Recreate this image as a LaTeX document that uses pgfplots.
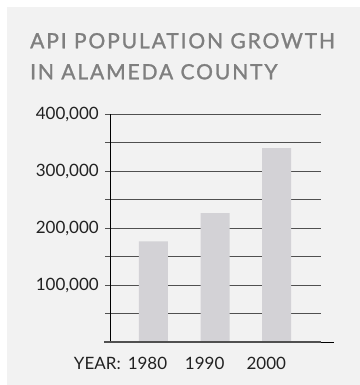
\documentclass[border=0pt]{standalone}
\usepackage{pgfplots}
\pgfplotsset{compat=1.18}
\usepackage{fontspec}
\setmainfont{Lato}
\definecolor{panel}{HTML}{F2F2F2}
\definecolor{barc}{HTML}{D3D2D6}
\definecolor{gridc}{HTML}{505050}
\definecolor{titlec}{HTML}{7F7F7F}
\definecolor{labc}{HTML}{222222}
\begin{document}
\begin{tikzpicture}
\fill[white] (0bp,0bp) rectangle (360bp,385bp);
\fill[panel] (7bp,0bp) rectangle (360bp,378bp);
\node[anchor=base west, inner sep=0, text=titlec, font=\fontsize{21bp}{25bp}\selectfont\addfontfeature{LetterSpace=9,FakeBold=1.2}] at (30bp,336.7bp) {API POPULATION GROWTH};
\node[anchor=base west, inner sep=0, text=titlec, font=\fontsize{21bp}{25bp}\selectfont\addfontfeature{LetterSpace=9,FakeBold=1.2}] at (30bp,305.7bp) {IN ALAMEDA COUNTY};
\node[anchor=base east, inner sep=0, text=labc, font=\fontsize{17bp}{20bp}\selectfont] at (121bp,15.7bp) {YEAR:};
\begin{axis}[
  at={(105bp,42.7bp)}, anchor=south west, scale only axis,
  width=216bp, height=228.3bp,
  xmin=-0.7886, xmax=2.7236, ymin=0, ymax=400000,
  axis line style={draw=none},
  major tick style={draw=none}, minor tick style={draw=none},
  ytick={100000,200000,300000,400000},
  yticklabels={{100,000},{200,000},{300,000},{400,000}},
  minor ytick={50000,150000,250000,350000},
  ymajorgrids, yminorgrids,
  major grid style={line width=1bp, gridc},
  minor grid style={line width=1bp, gridc},
  yticklabel style={anchor=east, inner sep=0pt, xshift=-6bp, text=labc, font=\fontsize{17bp}{20bp}\selectfont},
  xtick={-0.0976,0.8325,1.834},
  xticklabels={1980,1990,2000},
  xticklabel style={anchor=base, inner sep=0pt, yshift=-27bp, text=labc, font=\fontsize{17bp}{20bp}\selectfont},
  scaled y ticks=false,
  clip=false,
]
\addplot[ybar, bar width=29bp, bar shift=0pt, fill=barc, draw=none] coordinates {(0,177000) (1,226500) (2,340000)};
\draw[line width=1bp, black] (axis cs:-0.6911,0) -- (axis cs:-0.6911,400000);
\draw[line width=1.8bp, gridc] (axis cs:-0.80,0) -- (axis cs:2.7236,0);
\draw[line width=1bp, black] (axis cs:2.7236,0) -- (axis cs:2.935,0);
\end{axis}
\end{tikzpicture}
\end{document}
